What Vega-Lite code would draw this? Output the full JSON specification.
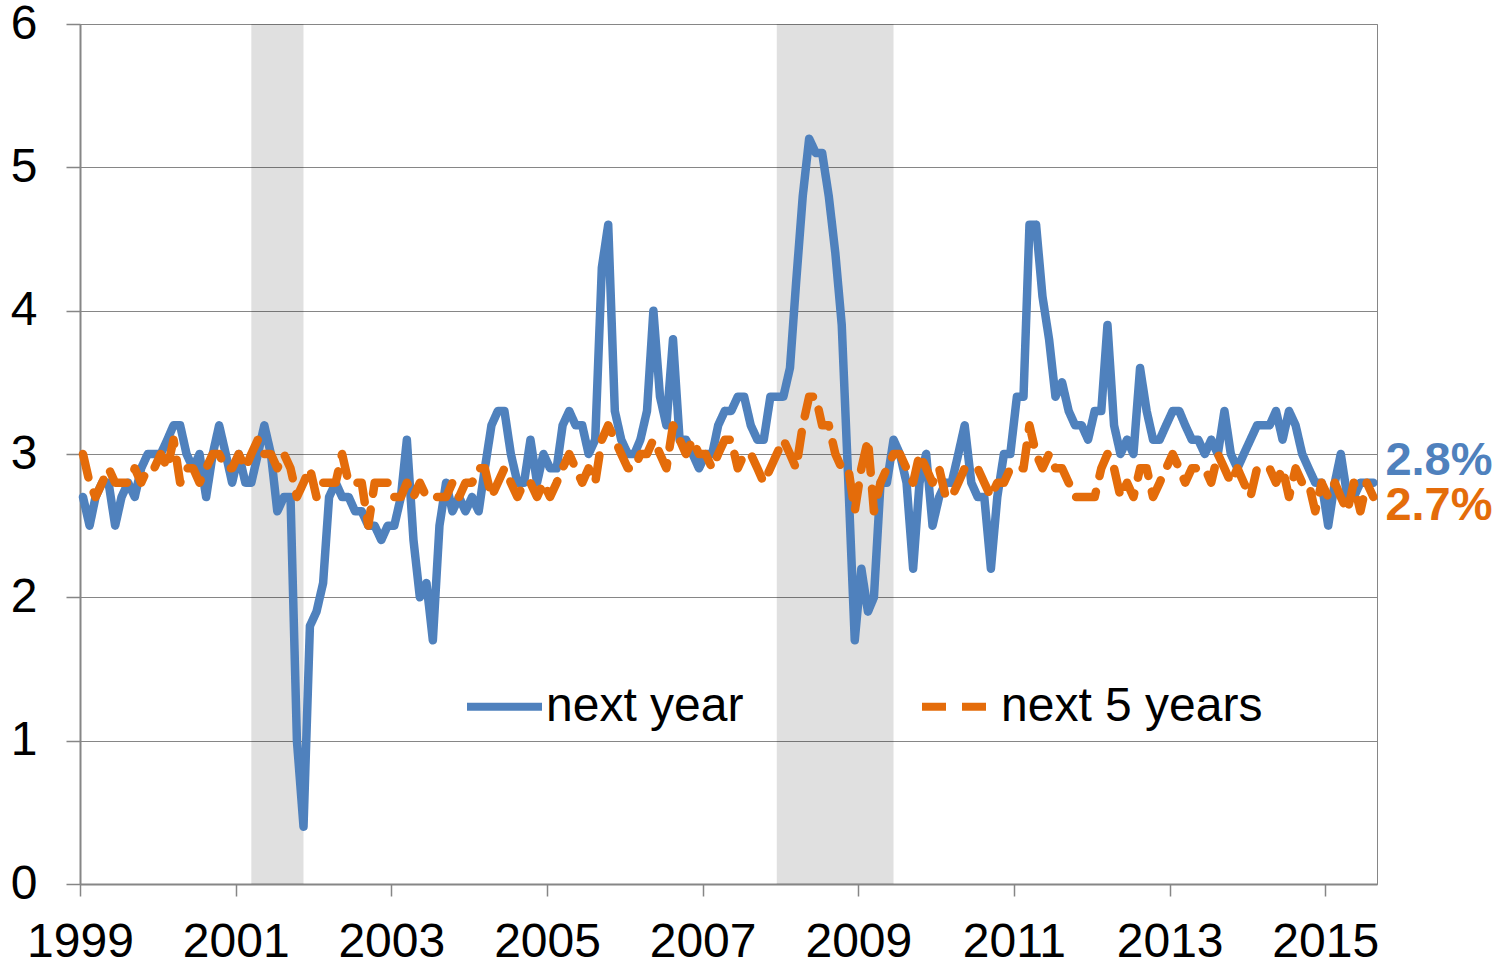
{
  "$schema": "https://vega.github.io/schema/vega-lite/v6.json",
  "width": 1297,
  "height": 860,
  "autosize": {"type": "none"},
  "padding": {"left": 80, "top": 24, "right": 131, "bottom": 80},
  "background": "white",
  "config": {"view": {"stroke": "#868686", "strokeWidth": 1}, "font": "Liberation Sans"},
  "datasets": {
    "recessions": [
      {"date": "2001-03-15", "end": "2001-11-15"},
      {"date": "2007-12-15", "end": "2009-06-15"}
    ],
    "latest": [
      {"date": "2015-08-15", "series": "next year", "value": 2.8, "label": "2.8%"},
      {"date": "2015-08-15", "series": "next 5 years", "value": 2.7, "label": "2.7%"}
    ],
    "survey": [
      {"date":"1999-01-15","next year":2.7,"next 5 years":3.0},
      {"date":"1999-02-15","next year":2.5,"next 5 years":2.8},
      {"date":"1999-03-15","next year":2.7,"next 5 years":2.7},
      {"date":"1999-04-15","next year":2.8,"next 5 years":2.8},
      {"date":"1999-05-15","next year":2.8,"next 5 years":2.9},
      {"date":"1999-06-15","next year":2.5,"next 5 years":2.8},
      {"date":"1999-07-15","next year":2.7,"next 5 years":2.8},
      {"date":"1999-08-15","next year":2.8,"next 5 years":2.8},
      {"date":"1999-09-15","next year":2.7,"next 5 years":2.9},
      {"date":"1999-10-15","next year":2.9,"next 5 years":2.8},
      {"date":"1999-11-15","next year":3.0,"next 5 years":2.9},
      {"date":"1999-12-15","next year":3.0,"next 5 years":2.9},
      {"date":"2000-01-15","next year":3.0,"next 5 years":3.0},
      {"date":"2000-02-15","next year":3.1,"next 5 years":2.9},
      {"date":"2000-03-15","next year":3.2,"next 5 years":3.1},
      {"date":"2000-04-15","next year":3.2,"next 5 years":2.8},
      {"date":"2000-05-15","next year":3.0,"next 5 years":2.9},
      {"date":"2000-06-15","next year":2.9,"next 5 years":2.9},
      {"date":"2000-07-15","next year":3.0,"next 5 years":2.8},
      {"date":"2000-08-15","next year":2.7,"next 5 years":2.9},
      {"date":"2000-09-15","next year":3.0,"next 5 years":3.0},
      {"date":"2000-10-15","next year":3.2,"next 5 years":3.0},
      {"date":"2000-11-15","next year":3.0,"next 5 years":2.9},
      {"date":"2000-12-15","next year":2.8,"next 5 years":2.9},
      {"date":"2001-01-15","next year":3.0,"next 5 years":3.0},
      {"date":"2001-02-15","next year":2.8,"next 5 years":2.9},
      {"date":"2001-03-15","next year":2.8,"next 5 years":3.0},
      {"date":"2001-04-15","next year":3.0,"next 5 years":3.1},
      {"date":"2001-05-15","next year":3.2,"next 5 years":3.0},
      {"date":"2001-06-15","next year":3.0,"next 5 years":3.0},
      {"date":"2001-07-15","next year":2.6,"next 5 years":2.9},
      {"date":"2001-08-15","next year":2.7,"next 5 years":3.0},
      {"date":"2001-09-15","next year":2.7,"next 5 years":2.9},
      {"date":"2001-10-15","next year":1.0,"next 5 years":2.7},
      {"date":"2001-11-15","next year":0.4,"next 5 years":2.8},
      {"date":"2001-12-15","next year":1.8,"next 5 years":2.9},
      {"date":"2002-01-15","next year":1.9,"next 5 years":2.7},
      {"date":"2002-02-15","next year":2.1,"next 5 years":2.8},
      {"date":"2002-03-15","next year":2.7,"next 5 years":2.8},
      {"date":"2002-04-15","next year":2.8,"next 5 years":2.8},
      {"date":"2002-05-15","next year":2.7,"next 5 years":3.0},
      {"date":"2002-06-15","next year":2.7,"next 5 years":2.8},
      {"date":"2002-07-15","next year":2.6,"next 5 years":2.8},
      {"date":"2002-08-15","next year":2.6,"next 5 years":2.8},
      {"date":"2002-09-15","next year":2.5,"next 5 years":2.5},
      {"date":"2002-10-15","next year":2.5,"next 5 years":2.8},
      {"date":"2002-11-15","next year":2.4,"next 5 years":2.8},
      {"date":"2002-12-15","next year":2.5,"next 5 years":2.8},
      {"date":"2003-01-15","next year":2.5,"next 5 years":2.7},
      {"date":"2003-02-15","next year":2.7,"next 5 years":2.7},
      {"date":"2003-03-15","next year":3.1,"next 5 years":2.8},
      {"date":"2003-04-15","next year":2.4,"next 5 years":2.7},
      {"date":"2003-05-15","next year":2.0,"next 5 years":2.8},
      {"date":"2003-06-15","next year":2.1,"next 5 years":2.7},
      {"date":"2003-07-15","next year":1.7,"next 5 years":2.7},
      {"date":"2003-08-15","next year":2.5,"next 5 years":2.7},
      {"date":"2003-09-15","next year":2.8,"next 5 years":2.7},
      {"date":"2003-10-15","next year":2.6,"next 5 years":2.8},
      {"date":"2003-11-15","next year":2.7,"next 5 years":2.7},
      {"date":"2003-12-15","next year":2.6,"next 5 years":2.8},
      {"date":"2004-01-15","next year":2.7,"next 5 years":2.8},
      {"date":"2004-02-15","next year":2.6,"next 5 years":2.9},
      {"date":"2004-03-15","next year":2.9,"next 5 years":2.9},
      {"date":"2004-04-15","next year":3.2,"next 5 years":2.7},
      {"date":"2004-05-15","next year":3.3,"next 5 years":2.8},
      {"date":"2004-06-15","next year":3.3,"next 5 years":2.9},
      {"date":"2004-07-15","next year":3.0,"next 5 years":2.8},
      {"date":"2004-08-15","next year":2.8,"next 5 years":2.7},
      {"date":"2004-09-15","next year":2.8,"next 5 years":2.8},
      {"date":"2004-10-15","next year":3.1,"next 5 years":2.8},
      {"date":"2004-11-15","next year":2.8,"next 5 years":2.7},
      {"date":"2004-12-15","next year":3.0,"next 5 years":2.8},
      {"date":"2005-01-15","next year":2.9,"next 5 years":2.7},
      {"date":"2005-02-15","next year":2.9,"next 5 years":2.8},
      {"date":"2005-03-15","next year":3.2,"next 5 years":2.9},
      {"date":"2005-04-15","next year":3.3,"next 5 years":3.0},
      {"date":"2005-05-15","next year":3.2,"next 5 years":2.9},
      {"date":"2005-06-15","next year":3.2,"next 5 years":2.8},
      {"date":"2005-07-15","next year":3.0,"next 5 years":2.9},
      {"date":"2005-08-15","next year":3.1,"next 5 years":2.8},
      {"date":"2005-09-15","next year":4.3,"next 5 years":3.1},
      {"date":"2005-10-15","next year":4.6,"next 5 years":3.2},
      {"date":"2005-11-15","next year":3.3,"next 5 years":3.1},
      {"date":"2005-12-15","next year":3.1,"next 5 years":3.0},
      {"date":"2006-01-15","next year":3.0,"next 5 years":2.9},
      {"date":"2006-02-15","next year":3.0,"next 5 years":2.9},
      {"date":"2006-03-15","next year":3.1,"next 5 years":3.0},
      {"date":"2006-04-15","next year":3.3,"next 5 years":3.0},
      {"date":"2006-05-15","next year":4.0,"next 5 years":3.1},
      {"date":"2006-06-15","next year":3.4,"next 5 years":3.0},
      {"date":"2006-07-15","next year":3.2,"next 5 years":2.9},
      {"date":"2006-08-15","next year":3.8,"next 5 years":3.2},
      {"date":"2006-09-15","next year":3.1,"next 5 years":3.1},
      {"date":"2006-10-15","next year":3.1,"next 5 years":3.0},
      {"date":"2006-11-15","next year":3.0,"next 5 years":3.1},
      {"date":"2006-12-15","next year":2.9,"next 5 years":3.0},
      {"date":"2007-01-15","next year":3.0,"next 5 years":3.0},
      {"date":"2007-02-15","next year":3.0,"next 5 years":2.9},
      {"date":"2007-03-15","next year":3.2,"next 5 years":3.0},
      {"date":"2007-04-15","next year":3.3,"next 5 years":3.1},
      {"date":"2007-05-15","next year":3.3,"next 5 years":3.1},
      {"date":"2007-06-15","next year":3.4,"next 5 years":2.9},
      {"date":"2007-07-15","next year":3.4,"next 5 years":3.0},
      {"date":"2007-08-15","next year":3.2,"next 5 years":3.0},
      {"date":"2007-09-15","next year":3.1,"next 5 years":2.9},
      {"date":"2007-10-15","next year":3.1,"next 5 years":2.8},
      {"date":"2007-11-15","next year":3.4,"next 5 years":2.9},
      {"date":"2007-12-15","next year":3.4,"next 5 years":3.0},
      {"date":"2008-01-15","next year":3.4,"next 5 years":3.1},
      {"date":"2008-02-15","next year":3.6,"next 5 years":3.0},
      {"date":"2008-03-15","next year":4.2,"next 5 years":2.9},
      {"date":"2008-04-15","next year":4.8,"next 5 years":3.2},
      {"date":"2008-05-15","next year":5.2,"next 5 years":3.4},
      {"date":"2008-06-15","next year":5.1,"next 5 years":3.4},
      {"date":"2008-07-15","next year":5.1,"next 5 years":3.2},
      {"date":"2008-08-15","next year":4.8,"next 5 years":3.2},
      {"date":"2008-09-15","next year":4.4,"next 5 years":3.0},
      {"date":"2008-10-15","next year":3.9,"next 5 years":2.9},
      {"date":"2008-11-15","next year":2.8,"next 5 years":2.9},
      {"date":"2008-12-15","next year":1.7,"next 5 years":2.6},
      {"date":"2009-01-15","next year":2.2,"next 5 years":2.9},
      {"date":"2009-02-15","next year":1.9,"next 5 years":3.1},
      {"date":"2009-03-15","next year":2.0,"next 5 years":2.6},
      {"date":"2009-04-15","next year":2.8,"next 5 years":2.8},
      {"date":"2009-05-15","next year":2.8,"next 5 years":2.9},
      {"date":"2009-06-15","next year":3.1,"next 5 years":3.0},
      {"date":"2009-07-15","next year":3.0,"next 5 years":3.0},
      {"date":"2009-08-15","next year":2.8,"next 5 years":2.9},
      {"date":"2009-09-15","next year":2.2,"next 5 years":2.8},
      {"date":"2009-10-15","next year":2.8,"next 5 years":3.0},
      {"date":"2009-11-15","next year":3.0,"next 5 years":2.9},
      {"date":"2009-12-15","next year":2.5,"next 5 years":2.8},
      {"date":"2010-01-15","next year":2.7,"next 5 years":2.9},
      {"date":"2010-02-15","next year":2.8,"next 5 years":2.7},
      {"date":"2010-03-15","next year":2.8,"next 5 years":2.7},
      {"date":"2010-04-15","next year":3.0,"next 5 years":2.8},
      {"date":"2010-05-15","next year":3.2,"next 5 years":2.9},
      {"date":"2010-06-15","next year":2.8,"next 5 years":2.9},
      {"date":"2010-07-15","next year":2.7,"next 5 years":2.9},
      {"date":"2010-08-15","next year":2.7,"next 5 years":2.8},
      {"date":"2010-09-15","next year":2.2,"next 5 years":2.7},
      {"date":"2010-10-15","next year":2.7,"next 5 years":2.8},
      {"date":"2010-11-15","next year":3.0,"next 5 years":2.8},
      {"date":"2010-12-15","next year":3.0,"next 5 years":2.9},
      {"date":"2011-01-15","next year":3.4,"next 5 years":2.9},
      {"date":"2011-02-15","next year":3.4,"next 5 years":2.9},
      {"date":"2011-03-15","next year":4.6,"next 5 years":3.2},
      {"date":"2011-04-15","next year":4.6,"next 5 years":3.0},
      {"date":"2011-05-15","next year":4.1,"next 5 years":2.9},
      {"date":"2011-06-15","next year":3.8,"next 5 years":3.0},
      {"date":"2011-07-15","next year":3.4,"next 5 years":2.9},
      {"date":"2011-08-15","next year":3.5,"next 5 years":2.9},
      {"date":"2011-09-15","next year":3.3,"next 5 years":2.8},
      {"date":"2011-10-15","next year":3.2,"next 5 years":2.7},
      {"date":"2011-11-15","next year":3.2,"next 5 years":2.7},
      {"date":"2011-12-15","next year":3.1,"next 5 years":2.7},
      {"date":"2012-01-15","next year":3.3,"next 5 years":2.7},
      {"date":"2012-02-15","next year":3.3,"next 5 years":2.9},
      {"date":"2012-03-15","next year":3.9,"next 5 years":3.0},
      {"date":"2012-04-15","next year":3.2,"next 5 years":2.9},
      {"date":"2012-05-15","next year":3.0,"next 5 years":2.7},
      {"date":"2012-06-15","next year":3.1,"next 5 years":2.8},
      {"date":"2012-07-15","next year":3.0,"next 5 years":2.7},
      {"date":"2012-08-15","next year":3.6,"next 5 years":2.9},
      {"date":"2012-09-15","next year":3.3,"next 5 years":2.9},
      {"date":"2012-10-15","next year":3.1,"next 5 years":2.7},
      {"date":"2012-11-15","next year":3.1,"next 5 years":2.8},
      {"date":"2012-12-15","next year":3.2,"next 5 years":2.9},
      {"date":"2013-01-15","next year":3.3,"next 5 years":3.0},
      {"date":"2013-02-15","next year":3.3,"next 5 years":2.9},
      {"date":"2013-03-15","next year":3.2,"next 5 years":2.8},
      {"date":"2013-04-15","next year":3.1,"next 5 years":2.9},
      {"date":"2013-05-15","next year":3.1,"next 5 years":2.9},
      {"date":"2013-06-15","next year":3.0,"next 5 years":2.9},
      {"date":"2013-07-15","next year":3.1,"next 5 years":2.8},
      {"date":"2013-08-15","next year":3.0,"next 5 years":3.0},
      {"date":"2013-09-15","next year":3.3,"next 5 years":2.9},
      {"date":"2013-10-15","next year":3.0,"next 5 years":2.8},
      {"date":"2013-11-15","next year":2.9,"next 5 years":2.9},
      {"date":"2013-12-15","next year":3.0,"next 5 years":2.8},
      {"date":"2014-01-15","next year":3.1,"next 5 years":2.7},
      {"date":"2014-02-15","next year":3.2,"next 5 years":2.9},
      {"date":"2014-03-15","next year":3.2,"next 5 years":2.9},
      {"date":"2014-04-15","next year":3.2,"next 5 years":2.9},
      {"date":"2014-05-15","next year":3.3,"next 5 years":2.8},
      {"date":"2014-06-15","next year":3.1,"next 5 years":2.9},
      {"date":"2014-07-15","next year":3.3,"next 5 years":2.7},
      {"date":"2014-08-15","next year":3.2,"next 5 years":2.9},
      {"date":"2014-09-15","next year":3.0,"next 5 years":2.8},
      {"date":"2014-10-15","next year":2.9,"next 5 years":2.8},
      {"date":"2014-11-15","next year":2.8,"next 5 years":2.6},
      {"date":"2014-12-15","next year":2.8,"next 5 years":2.8},
      {"date":"2015-01-15","next year":2.5,"next 5 years":2.7},
      {"date":"2015-02-15","next year":2.8,"next 5 years":2.8},
      {"date":"2015-03-15","next year":3.0,"next 5 years":2.7},
      {"date":"2015-04-15","next year":2.7,"next 5 years":2.6},
      {"date":"2015-05-15","next year":2.7,"next 5 years":2.8},
      {"date":"2015-06-15","next year":2.8,"next 5 years":2.6},
      {"date":"2015-07-15","next year":2.8,"next 5 years":2.8},
      {"date":"2015-08-15","next year":2.8,"next 5 years":2.7}
    ]
  },
  "encoding": {
    "x": {
      "field": "date",
      "type": "temporal",
      "scale": {"type": "utc", "domain": [{"year": 1999, "month": 1, "date": 1, "utc": true}, {"year": 2015, "month": 9, "date": 1, "utc": true}]},
      "axis": {
        "title": null,
        "values": [
          {"year": 1999, "month": 1, "date": 1, "utc": true},
          {"year": 2001, "month": 1, "date": 1, "utc": true},
          {"year": 2003, "month": 1, "date": 1, "utc": true},
          {"year": 2005, "month": 1, "date": 1, "utc": true},
          {"year": 2007, "month": 1, "date": 1, "utc": true},
          {"year": 2009, "month": 1, "date": 1, "utc": true},
          {"year": 2011, "month": 1, "date": 1, "utc": true},
          {"year": 2013, "month": 1, "date": 1, "utc": true},
          {"year": 2015, "month": 1, "date": 1, "utc": true}
        ],
        "format": "%Y",
        "formatType": "utc",
        "grid": false,
        "domainColor": "#868686",
        "domainWidth": 2,
        "tickColor": "#868686",
        "tickWidth": 1.5,
        "tickSize": 12,
        "labelFont": "Liberation Sans",
        "labelFontSize": 48,
        "labelColor": "#000000",
        "labelPadding": 22,
        "labelFlush": false,
        "labelOverlap": false,
        "labelAngle": 0
      }
    }
  },
  "layer": [
    {
      "data": {"name": "recessions"},
      "mark": {"type": "rect", "fill": "#000000", "opacity": 0.12},
      "encoding": {"x2": {"field": "end"}}
    },
    {
      "data": {"name": "survey"},
      "transform": [{"fold": ["next year", "next 5 years"], "as": ["series", "value"]}],
      "mark": {"type": "line", "strokeWidth": 8.5, "strokeCap": "round", "strokeJoin": "round"},
      "encoding": {
        "y": {
          "field": "value",
          "type": "quantitative",
          "scale": {"domain": [0, 6], "nice": false},
          "axis": {
            "title": null,
            "values": [0, 1, 2, 3, 4, 5, 6],
            "format": "d",
            "grid": true,
            "gridColor": "#868686",
            "gridWidth": 1,
            "domainColor": "#868686",
            "domainWidth": 2,
            "tickColor": "#868686",
            "tickWidth": 1.5,
            "tickSize": 14,
            "labelFont": "Liberation Sans",
            "labelFontSize": 48,
            "labelColor": "#000000",
            "labelPadding": 29
          }
        },
        "color": {
          "field": "series",
          "type": "nominal",
          "scale": {"domain": ["next year", "next 5 years"], "range": ["#4F81BD", "#E46C0A"]},
          "legend": {
            "title": null,
            "orient": "none",
            "legendX": 383,
            "legendY": 641,
            "direction": "horizontal",
            "symbolType": "stroke",
            "symbolSize": 5625,
            "symbolStrokeWidth": 8,
            "labelFont": "Liberation Sans",
            "labelFontSize": 48,
            "labelColor": "#000000",
            "labelOffset": 0,
            "labelLimit": 0,
            "columnPadding": 162,
            "padding": 0
          }
        },
        "strokeDash": {
          "field": "series",
          "type": "nominal",
          "scale": {"domain": ["next year", "next 5 years"], "range": [[1, 0], [24, 16]]},
          "legend": {
            "title": null,
            "orient": "none",
            "legendX": 383,
            "legendY": 641,
            "direction": "horizontal",
            "symbolType": "stroke",
            "symbolSize": 5625,
            "symbolStrokeWidth": 8,
            "labelFont": "Liberation Sans",
            "labelFontSize": 48,
            "labelColor": "#000000",
            "labelOffset": 0,
            "labelLimit": 0,
            "columnPadding": 162,
            "padding": 0
          }
        }
      }
    },
    {
      "data": {"name": "latest"},
      "transform": [{"filter": "datum.series === 'next year'"}],
      "mark": {"type": "text", "align": "left", "baseline": "alphabetic", "dx": 12, "dy": -8, "font": "Liberation Sans", "fontSize": 47, "fontWeight": "bold", "color": "#4F81BD"},
      "encoding": {
        "y": {"field": "value", "type": "quantitative"},
        "text": {"field": "label"}
      }
    },
    {
      "data": {"name": "latest"},
      "transform": [{"filter": "datum.series === 'next 5 years'"}],
      "mark": {"type": "text", "align": "left", "baseline": "alphabetic", "dx": 12, "dy": 23, "font": "Liberation Sans", "fontSize": 47, "fontWeight": "bold", "color": "#E46C0A"},
      "encoding": {
        "y": {"field": "value", "type": "quantitative"},
        "text": {"field": "label"}
      }
    }
  ]
}
